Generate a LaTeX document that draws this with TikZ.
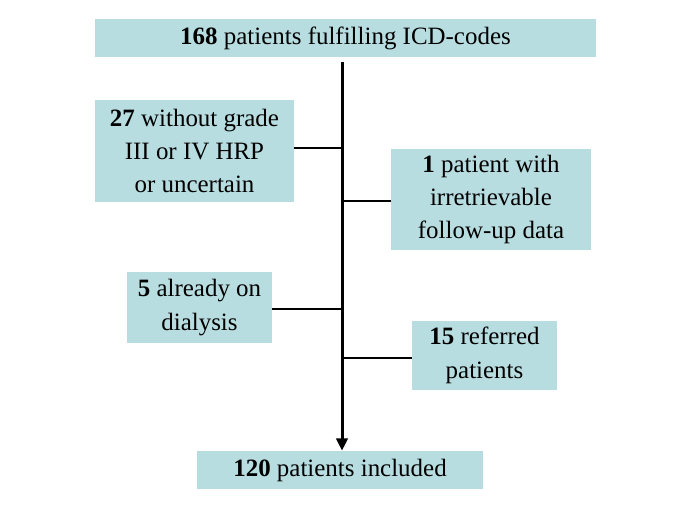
\documentclass[tikz,border=0pt]{standalone}
\usepackage{fontspec}
\setmainfont{Liberation Serif}
\usetikzlibrary{arrows.meta,positioning}
\definecolor{flowbox}{HTML}{B8DDE0}

\tikzset{
  stagebox/.style={fill=flowbox,inner sep=0pt,align=center,
    font=\fontsize{14.2}{19}\selectfont},
  trunk/.style={line width=1.7pt,black},
}

\begin{document}
\begin{tikzpicture}[x=0.02cm,y=-0.02cm]
\useasboundingbox (0,0) rectangle (685,513);
% boxes
\node[stagebox,minimum width=501*0.02cm,minimum height=38*0.02cm] (screened) at (345.5,38) {\textbf{168} patients fulfilling ICD-codes};
\node[stagebox,minimum width=199*0.02cm,minimum height=102*0.02cm] (nohrp) at (194.5,151) {\textbf{27} without grade\\III or IV HRP\\or uncertain};
\node[stagebox,minimum width=200*0.02cm,minimum height=101*0.02cm] (nofollow) at (491,199.5) {\textbf{1} patient with\\irretrievable\\follow-up data};
\node[stagebox,minimum width=145*0.02cm,minimum height=71*0.02cm] (dialysis) at (199.5,307.5) {\textbf{5} already on\\dialysis};
\node[stagebox,minimum width=145*0.02cm,minimum height=69*0.02cm] (referred) at (484.5,355.5) {\textbf{15} referred\\patients};
\node[stagebox,minimum width=286*0.02cm,minimum height=38*0.02cm] (included) at (340,470) {\textbf{120} patients included};
% connectors
\coordinate (trunktop) at (342,62);
\draw[trunk,-{Triangle[length=7pt,width=6.5pt]}] (trunktop) -- (included.north -| trunktop);
\draw[trunk] ([yshift=0.06cm]nohrp.east) -- ([yshift=0.06cm]nohrp.east -| trunktop);
\draw[trunk] ([yshift=-0.03cm]nofollow.west) -- ([yshift=-0.03cm]nofollow.west -| trunktop);
\draw[trunk] ([yshift=-0.03cm]dialysis.east) -- ([yshift=-0.03cm]dialysis.east -| trunktop);
\draw[trunk] ([yshift=-0.05cm]referred.west) -- ([yshift=-0.05cm]referred.west -| trunktop);
\end{tikzpicture}
\end{document}
